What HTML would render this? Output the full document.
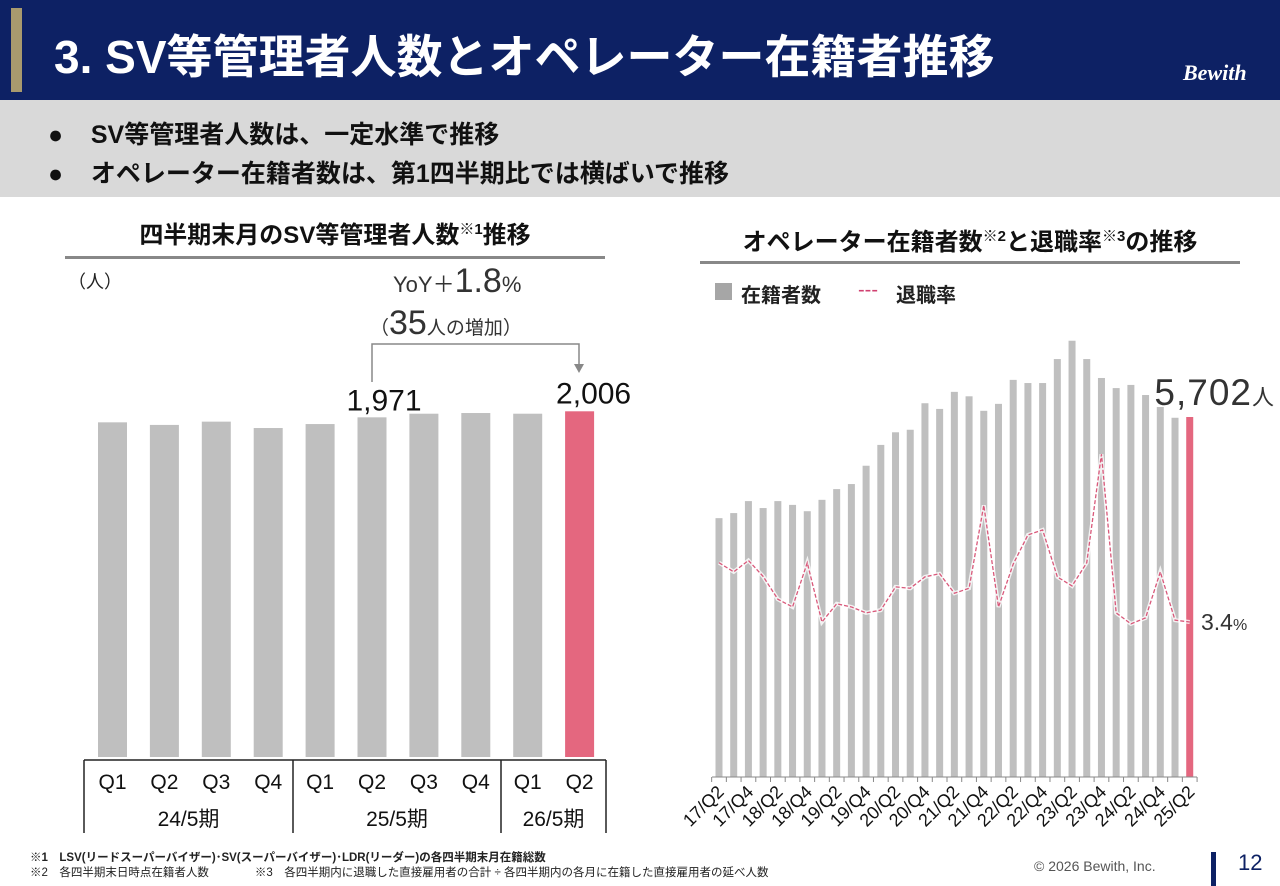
<!DOCTYPE html>
<html><head><meta charset="utf-8">
<style>
body{margin:0;width:1280px;height:886px;overflow:hidden;background:#fff;font-family:"Liberation Sans","Noto Sans CJK JP",sans-serif;position:relative}
.a{position:absolute;white-space:nowrap}
</style></head><body>
<div class="a" style="left:0;top:0;width:1280px;height:100px;background:#0d2164"></div>
<div class="a" style="left:11px;top:8px;width:11px;height:84px;background:#a89a6e"></div>
<div class="a" style="left:54px;top:21px;font-size:46px;font-weight:bold;color:#fff">3. SV等管理者人数とオペレーター在籍者推移</div>
<div class="a" style="left:1183px;top:60px;font-size:22px;font-weight:bold;font-style:italic;color:#fff;font-family:'Liberation Serif',serif">Bewith</div>
<div class="a" style="left:0;top:100px;width:1280px;height:97px;background:#d9d9d9"></div>
<div class="a" style="left:48px;top:115px;font-size:25px;font-weight:bold;color:#111">●&nbsp;&nbsp;&nbsp;&nbsp;SV等管理者人数は、一定水準で推移</div>
<div class="a" style="left:48px;top:154px;font-size:25px;font-weight:bold;color:#111">●&nbsp;&nbsp;&nbsp;&nbsp;オペレーター在籍者数は、第1四半期比では横ばいで推移</div>

<div class="a" style="left:65px;width:540px;top:215px;text-align:center;font-size:24px;font-weight:bold;color:#111">四半期末月のSV等管理者人数<sup style="font-size:15px">※1</sup>推移</div>
<div class="a" style="left:65px;top:256px;width:540px;height:3px;background:#888"></div>
<div class="a" style="left:68px;top:268px;font-size:18px;color:#222">（人）</div>
<div class="a" style="left:393px;top:262px;font-size:22px;color:#333">YoY＋<span style="font-size:34px">1.8</span>%</div>
<div class="a" style="left:370px;top:304px;font-size:19px;color:#333">（<span style="font-size:34px">35</span>人の増加）</div>

<div class="a" style="left:700px;width:540px;top:222px;text-align:center;font-size:24px;font-weight:bold;color:#111">オペレーター在籍者数<sup style="font-size:15px">※2</sup>と退職率<sup style="font-size:15px">※3</sup>の推移</div>
<div class="a" style="left:700px;top:261px;width:540px;height:3px;background:#888"></div>
<div class="a" style="left:715px;top:283px;width:17px;height:17px;background:#a6a6a6"></div>
<div class="a" style="left:741px;top:279px;font-size:20px;font-weight:bold;color:#222">在籍者数</div>
<div class="a" style="left:858px;top:279px;font-size:20px;color:#d04070">---</div>
<div class="a" style="left:896px;top:279px;font-size:20px;font-weight:bold;color:#222">退職率</div>

<svg class="a" style="left:0;top:0" width="1280" height="886" id="chart"></svg>

<div class="a" style="left:30px;top:849px;font-size:11.5px;font-weight:bold;color:#222">※1　LSV(リードスーパーバイザー)･SV(スーパーバイザー)･LDR(リーダー)の各四半期末月在籍総数</div>
<div class="a" style="left:30px;top:864px;font-size:11.5px;color:#222">※2　各四半期末日時点在籍者人数　　　　※3　各四半期内に退職した直接雇用者の合計 ÷ 各四半期内の各月に在籍した直接雇用者の延べ人数</div>
<div class="a" style="left:1034px;top:858px;font-size:14px;color:#555">© 2026 Bewith, Inc.</div>
<div class="a" style="left:1211px;top:852px;width:5px;height:34px;background:#0d2164"></div>
<div class="a" style="left:1238px;top:850px;font-size:22px;color:#0d2164">12</div>

<script>
const leftCats=["Q1","Q2","Q3","Q4","Q1","Q2","Q3","Q4","Q1","Q2"];
const leftVals=[1942,1927,1946,1909,1932,1971,1992,1996,1992,2006];
const leftYears=["24/5期","25/5期","26/5期"];
const rightCats=["17/Q2","17/Q3","17/Q4","18/Q1","18/Q2","18/Q3","18/Q4","19/Q1","19/Q2","19/Q3","19/Q4","20/Q1","20/Q2","20/Q3","20/Q4","21/Q1","21/Q2","21/Q3","21/Q4","22/Q1","22/Q2","22/Q3","22/Q4","23/Q1","23/Q2","23/Q3","23/Q4","24/Q1","24/Q2","24/Q3","24/Q4","25/Q1","25/Q2"];
const headcount=[4100,4180,4370,4260,4370,4310,4210,4390,4560,4640,4930,5260,5460,5500,5920,5830,6100,6030,5800,5910,6290,6240,6240,6620,6910,6620,6320,6160,6210,6050,5860,5690,5702];
const rates=[4.7,4.5,4.75,4.4,3.9,3.73,4.7,3.4,3.8,3.73,3.6,3.66,4.17,4.14,4.39,4.46,4.03,4.14,5.96,3.73,4.67,5.31,5.42,4.39,4.19,4.7,7.08,3.6,3.36,3.49,4.5,3.44,3.4];

const svg=document.getElementById('chart');const NS='http://www.w3.org/2000/svg';
function mk(t,a,p){const e=document.createElementNS(NS,t);for(const k in a)e.setAttribute(k,a[k]);(p||svg).appendChild(e);return e;}
const lBase=757,lScale=345.7/2006;
const lx=i=>112.5+i*51.9, ly=v=>lBase-v*lScale;
leftVals.forEach((v,i)=>{const r=mk('rect',{x:lx(i)-14.5,y:ly(v),width:29,height:lBase-ly(v),fill:i==leftVals.length-1?'#e4677f':'#bfbfbf'});

});
leftCats.forEach((c,i)=>{const t=mk('text',{x:lx(i),y:789,'text-anchor':'middle','font-size':21,fill:'#111'});t.textContent=c;

});
const seps=[84,293,501,606];
const ax=mk('line',{x1:84,x2:606,y1:760,y2:760,stroke:'#222','stroke-width':1.5});


seps.forEach(x=>{const l=mk('line',{x1:x,x2:x,y1:760,y2:833,stroke:'#222','stroke-width':1.5});

});
leftYears.forEach((y,i)=>{const t=mk('text',{x:(seps[i]+seps[i+1])/2,y:826,'text-anchor':'middle','font-size':21,fill:'#111'});t.textContent=y;

});
const t1=mk('text',{x:lx(5)+12,y:ly(leftVals[5])-7,'text-anchor':'middle','font-size':30,fill:'#111'});t1.textContent=leftVals[5].toLocaleString('en-US');


const t2=mk('text',{x:lx(9)+14,y:ly(leftVals[9])-8,'text-anchor':'middle','font-size':30,fill:'#111'});t2.textContent=leftVals[9].toLocaleString('en-US');


const br=mk('polyline',{points:`372,382 372,344 579,344 579,366`,fill:'none',stroke:'#888','stroke-width':1.5});


const ar=mk('polygon',{points:`574,364 584,364 579,373`,fill:'#888'});


const rBase=777,rScale=360/5702,rateScale=155/3.4;
const rx=i=>719+i*14.71, ry=v=>rBase-v*rScale, rr=v=>rBase-v*rateScale;
headcount.forEach((v,i)=>{const r=mk('rect',{x:rx(i)-3.5,y:ry(v),width:7,height:rBase-ry(v),fill:i==headcount.length-1?'#e4677f':'#bfbfbf'});

});
const rax=mk('line',{x1:712,x2:1197,y1:rBase,y2:rBase,stroke:'#888','stroke-width':1});


for(let i=0;i<=rightCats.length;i++){const l=mk('line',{x1:rx(i)-7.35,x2:rx(i)-7.35,y1:rBase,y2:rBase+5,stroke:'#888'});

}
rightCats.forEach((c,i)=>{if(i%2)return;const t=mk('text',{x:rx(i)+6,y:rBase+16,'text-anchor':'end','font-size':18,fill:'#111',transform:`rotate(-45 ${rx(i)+6} ${rBase+16})`});t.textContent=c;

});
const pts=rates.map((v,i)=>rx(i)+','+rr(v)).join(' ');
const halo=mk('polyline',{points:pts,fill:'none',stroke:'#fff','stroke-width':4,opacity:0.8});


const rl=mk('polyline',{points:pts,fill:'none',stroke:'#d9587a','stroke-width':1.3,'stroke-dasharray':'4 2'});


const lv=mk('text',{x:1275,y:ry(headcount[32])-12,'font-size':37,fill:'#333','text-anchor':'end','letter-spacing':'1'});lv.innerHTML=headcount[32].toLocaleString('en-US')+'<tspan font-size="22">人</tspan>';


const rv=mk('text',{x:1201,y:rr(rates[32])+8,'font-size':23,fill:'#333'});rv.innerHTML=rates[32]+'<tspan font-size="16">%</tspan>';


</script>
</body></html>
